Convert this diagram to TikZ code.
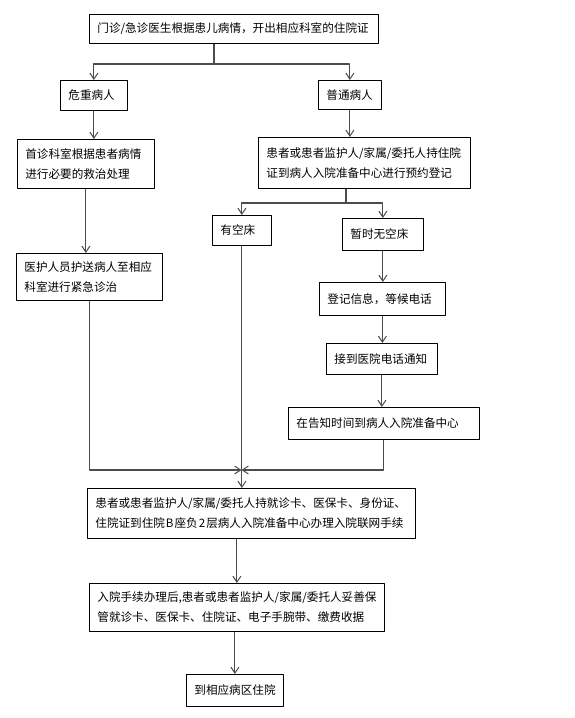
\documentclass[tikz,border=0pt]{standalone}
\usepackage{fontspec}
\newfontfamily\cjk{Noto Sans CJK SC}
\usetikzlibrary{arrows.meta}

\begin{document}
\begin{tikzpicture}[x=1pt,y=-1pt,line join=round,
  box/.style={draw=black,line width=0.8pt,anchor=north west,align=left,inner xsep=8pt,inner ysep=0pt,font=\fontsize{11.6}{20}\cjk},
  link/.style={draw=black!70,line width=1.1pt},
  arr/.style={link,-{Straight Barb[length=6pt,width=8pt,line width=1pt]}}]
  \useasboundingbox (0,0) rectangle (574,718);

  \node[box,text width=273pt,minimum height=29pt] (clinic) at (89,14) {门诊/急诊医生根据患儿病情，开出相应科室的住院证};
  \node[box,text width=51pt,minimum height=30pt] (crit) at (60,80) {危重病人};
  \node[box,text width=47pt,minimum height=29pt] (norm) at (318,80) {普通病人};
  \node[box,text width=121pt,minimum height=49pt] (first) at (17,139) {首诊科室根据患者病情\\进行必要的救治处理};
  \node[box,text width=196pt,minimum height=51pt] (book) at (258,137) {患者或患者监护人/家属/委托人持住院\\证到病人入院准备中心进行预约登记};
  \node[box,text width=130pt,minimum height=47pt] (escort) at (16,253) {医护人员护送病人至相应\\科室进行紧急诊治};
  \node[box,text width=43pt,minimum height=30pt] (bed) at (212,215) {有空床};
  \node[box,text width=65pt,minimum height=32pt] (nobed) at (342,218) {暂时无空床};
  \node[box,text width=110pt,minimum height=33pt] (info) at (319,282) {登记信息，等候电话};
  \node[box,text width=95pt,minimum height=31pt] (call) at (326,343) {接到医院电话通知};
  \node[box,text width=175pt,minimum height=32pt] (arrive) at (288,407) {在告知时间到病人入院准备中心};
  \node[box,text width=312pt,minimum height=50pt] (admit) at (87,488) {患者或患者监护人/家属/委托人持就诊卡、医保卡、身份证、\\住院证到住院\hspace{1pt}B\hspace{1pt}座负\hspace{1pt}2\hspace{1pt}层病人入院准备中心办理入院联网手续};
  \node[box,text width=279pt,minimum height=48pt] (keep) at (89,583) {入院手续办理后,患者或患者监护人/家属/委托人妥善保\\管就诊卡、医保卡、住院证、电子手腕带、缴费收据};
  \node[box,text width=81pt,minimum height=32pt] (ward) at (186,674) {到相应病区住院};

  \coordinate (split1) at (214,64);
  \coordinate (split2) at (346,203);
  \coordinate (merge) at (241.5,470);

  \draw[link] (clinic.south -| split1) -- (split1);
  \draw[arr] (split1) -| (crit.north);
  \draw[arr] (split1) -| (norm.north);
  \draw[arr] (crit.south) -- (crit.south |- first.north);
  \draw[arr] (first.south) -- (first.south |- escort.north);
  \draw[arr] (norm.south) -- (norm.south |- book.north);
  \draw[link] (book.south -| split2) -- (split2);
  \draw[arr] (split2) -| (bed.north);
  \draw[arr] (split2) -| (nobed.north);
  \draw[arr] (nobed.south) -- (nobed.south |- info.north);
  \draw[arr] (info.south) -- (info.south |- call.north);
  \draw[arr] (call.south) -- (call.south |- arrive.north);
  \draw[arr] (escort.south) |- (merge);
  \draw[arr] (arrive.south) |- (merge);
  \draw[arr] (bed.south) -- (bed.south |- admit.north);
  \draw[arr] (admit.south -| keep.north) -- (keep.north);
  \draw[arr] (keep.south -| ward.north) -- (ward.north);
\end{tikzpicture}
\end{document}
